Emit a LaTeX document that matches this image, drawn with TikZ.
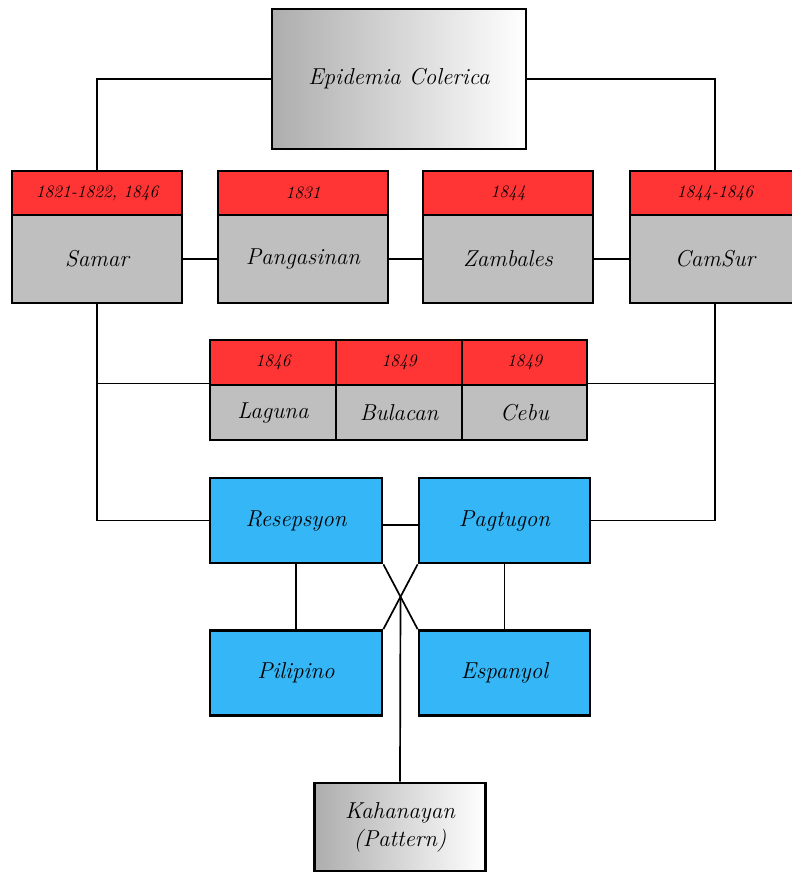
\documentclass[tikz,border=0pt]{standalone}
\usetikzlibrary{calc}
\definecolor{hred}{HTML}{FF3434}
\definecolor{bgrey}{HTML}{BFBFBF}
\definecolor{bblue}{HTML}{35B6F6}
\begin{document}
\begin{tikzpicture}[x=1pt,y=-1pt,
  box/.style={draw=black,line width=2.8pt,inner sep=0pt,align=center,font=\fontsize{23}{28}\selectfont\itshape},
  yearbox/.style={box,fill=hred,font=\fontsize{17.5}{21}\selectfont\itshape},
  placebox/.style={box,fill=bgrey},
  bluebox/.style={box,fill=bblue},
  gradbox/.style={box,left color=black!32,right color=white},
  conn/.style={draw=black,line width=1.7pt}]
\useasboundingbox (0,0) rectangle (792,873);
% top
\node[gradbox,minimum width=254pt,minimum height=140pt] (top) at (399,79) {Epidemia Colerica};
% row 1
\node[yearbox,minimum width=170pt,minimum height=44pt] (samY) at (97,193) {1821-1822, 1846};
\node[placebox,minimum width=170pt,minimum height=88pt] (samN) at (97,259) {Samar};
\node[yearbox,minimum width=170pt,minimum height=44pt] (panY) at (303,193) {1831};
\node[placebox,minimum width=170pt,minimum height=88pt] (panN) at (303,259) {Pangasinan};
\node[yearbox,minimum width=170pt,minimum height=44pt] (zamY) at (508,193) {1844};
\node[placebox,minimum width=170pt,minimum height=88pt] (zamN) at (508,259) {Zambales};
\node[yearbox,minimum width=170pt,minimum height=44pt] (camY) at (715,193) {1844-1846};
\node[placebox,minimum width=170pt,minimum height=88pt] (camN) at (715,259) {CamSur};
% row 2
\node[yearbox,minimum width=126pt,minimum height=45pt] (lagY) at (273,362.5) {1846};
\node[placebox,minimum width=126pt,minimum height=55pt] (lagN) at (273,412.5) {Laguna};
\node[yearbox,minimum width=126pt,minimum height=45pt] (bulY) at (399,362.5) {1849};
\node[placebox,minimum width=126pt,minimum height=55pt] (bulN) at (399,412.5) {Bulacan};
\node[yearbox,minimum width=125pt,minimum height=45pt] (cebY) at (524.5,362.5) {1849};
\node[placebox,minimum width=125pt,minimum height=55pt] (cebN) at (524.5,412.5) {Cebu};
% blue
\node[bluebox,minimum width=172pt,minimum height=85pt] (res) at (296,520.5) {Resepsyon};
\node[bluebox,minimum width=171pt,minimum height=85pt] (pag) at (504.5,520.5) {Pagtugon};
\node[bluebox,minimum width=172pt,minimum height=85pt] (pil) at (296,673) {Pilipino};
\node[bluebox,minimum width=171pt,minimum height=85pt] (esp) at (504.5,673) {Espanyol};
% bottom
\node[gradbox,minimum width=171pt,minimum height=88pt] (kah) at (400,827) {Kahanayan\\(Pattern)};
% connectors
\draw[conn] (top.west) -| (samY.north);
\draw[conn] (top.east) -| (camY.north);
\draw[conn] (samN.east) -- (panN.west);
\draw[conn] (panN.east) -- (zamN.west);
\draw[conn] (zamN.east) -- (camN.west);
\draw[conn] (samN.south) |- (res.west);
\draw[conn] (samN.south |- lagN.north west) -- (lagN.north west);
\draw[conn] (camN.south) |- (pag.east);
\draw[conn] (cebN.north east) -- (camN.south |- cebN.north east);
\draw[conn] ([yshift=-4.5pt]res.east) -- ([yshift=-4.5pt]pag.west);
\draw[conn] (res.south) -- (pil.north);
\draw[conn] (pag.south) -- (esp.north);
\draw[conn] (res.south east) -- (esp.north west);
\draw[conn] (pag.south west) -- (pil.north east);
\coordinate (cross) at ($(res.south east)!0.5!(esp.north west)$);
\draw[conn] (cross) -- (kah.north);
\end{tikzpicture}
\end{document}
